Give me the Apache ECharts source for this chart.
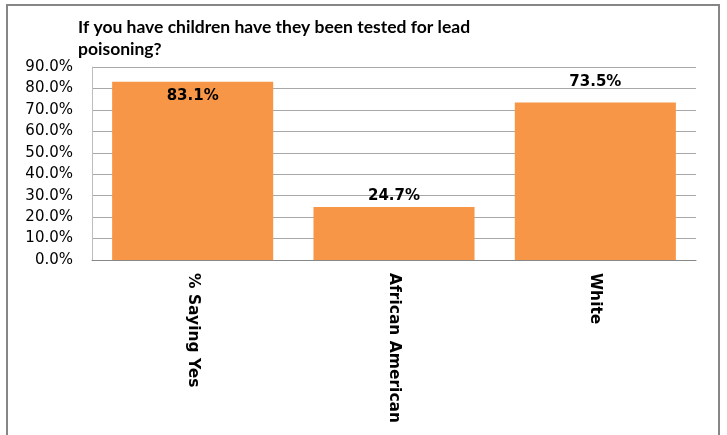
<!DOCTYPE html>
<html>
<head>
<meta charset="utf-8">
<script src="https://cdn.jsdelivr.net/npm/echarts@6/dist/echarts.min.js"></script>
<style>
html,body{margin:0;padding:0;background:#fff;}
#chart{width:727px;height:435px;}
</style>
</head>
<body>
<div id="chart"></div>
<script>
const titleText = 'If you have children have they been tested for lead\npoisoning?';
const categories = ['% Saying Yes', 'African American', 'White'];
const values = [83.1, 24.7, 73.5];
const yMin = 0, yMax = 90, yStep = 10;

const labelSpec = [
  {position: 'insideTop', distance: 7},
  {position: 'top', distance: 3},
  {position: 'top', distance: 13}
];

const chart = echarts.init(document.getElementById('chart'), null, {renderer: 'canvas'});
chart.setOption({
  animation: false,
  backgroundColor: '#ffffff',
  graphic: [{
    type: 'rect',
    shape: {x: 7, y: 5, width: 712, height: 440},
    style: {fill: 'none', stroke: '#868686', lineWidth: 2},
    silent: true
  }],
  title: {
    text: titleText,
    left: 78, top: 16, padding: 0,
    textStyle: {fontFamily: 'Lato', fontWeight: 'bold', fontSize: 17.5, color: '#000', lineHeight: 22}
  },
  grid: {left: 92, right: 31, top: 67, bottom: 175, containLabel: false},
  xAxis: {
    type: 'category',
    data: categories,
    axisLine: {lineStyle: {color: '#888888', width: 1}},
    axisTick: {show: false},
    axisLabel: {rotate: -90, margin: 13, fontFamily: 'DejaVu Sans', fontWeight: 'bold', fontSize: 15.5, color: '#000', interval: 0}
  },
  yAxis: {
    type: 'value',
    min: yMin, max: yMax, interval: yStep,
    axisLine: {show: true, lineStyle: {color: '#BDBDBD'}},
    axisTick: {show: false},
    splitLine: {lineStyle: {color: '#A8A8A8', width: 1}},
    axisLabel: {margin: 19, fontFamily: 'DejaVu Sans', fontSize: 15, color: '#000',
      formatter: v => v.toFixed(1) + '%'}
  },
  series: [{
    type: 'bar',
    barCategoryGap: '20%',
    itemStyle: {color: '#F79646'},
    data: values.map((v, i) => ({
      value: v,
      label: {show: true, position: labelSpec[i].position, distance: labelSpec[i].distance}
    })),
    label: {
      show: true,
      fontFamily: 'DejaVu Sans', fontWeight: 'bold', fontSize: 15, color: '#000',
      formatter: p => p.value.toFixed(1) + '%'
    }
  }]
});
</script>
</body>
</html>
